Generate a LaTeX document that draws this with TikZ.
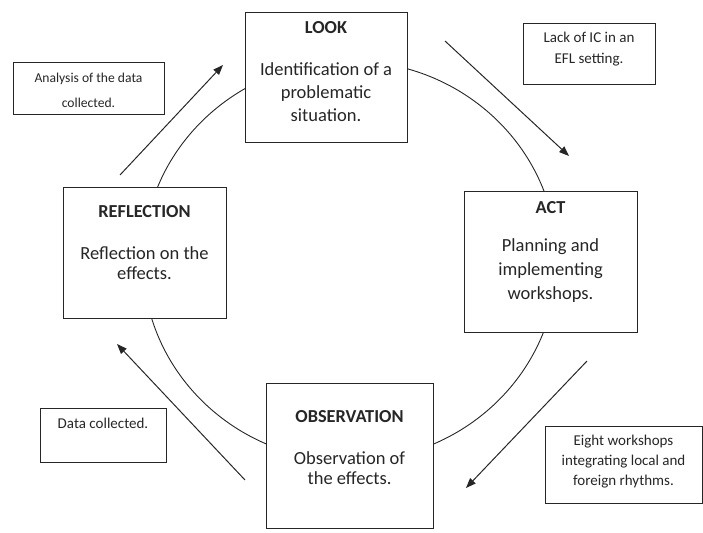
\documentclass[tikz,border=0pt]{standalone}
\usepackage{fontspec}
\setmainfont{Carlito}
\usetikzlibrary{arrows.meta}
\begin{document}
\begin{tikzpicture}[x=1pt,y=-1pt,
  box/.style={draw=black!85, line width=1.1pt, fill=white, inner sep=0pt, anchor=north west},
  note/.style={draw=black!85, line width=1pt, inner sep=0pt, anchor=north west},
  ttl/.style={font=\bfseries\fontsize{18.3}{21}\selectfont, text=black!85},
  body/.style={font=\fontsize{18.5}{23}\selectfont, align=center, text=black!85, inner sep=0pt},
  ntext/.style={font=\fontsize{15}{21}\selectfont, align=center, text=black!85, inner sep=0pt},
  arr/.style={line width=1pt, draw=black!85, -{Triangle[length=10pt,width=7.5pt]}},
  cyc/.style={line width=0.9pt, draw=black!85}]
\useasboundingbox (0,0) rectangle (703,532);
% cycle
\draw[cyc] (350,261) ellipse [x radius=207, y radius=200];
% main boxes
\node[box, minimum width=162pt, minimum height=130pt] (look) at (245,12) {};
\node[box, minimum width=163pt, minimum height=131pt] (refl) at (63,187) {};
\node[box, minimum width=173pt, minimum height=141pt] (act) at (464,191) {};
\node[box, minimum width=167pt, minimum height=145pt] (obs) at (266,383) {};
% titles
\node[ttl] (looktitle) at (326,28) {LOOK};
\node[ttl] (refltitle) at (144.5,212) {REFLECTION};
\node[ttl] (acttitle) at (550.5,208) {ACT};
\node[ttl] (obstitle) at (349.5,417) {OBSERVATION};
% body texts
\node[body] (lookbody) at (326,92) {Identification of a\\problematic\\situation.};
\node[body, font=\fontsize{18.5}{20.5}\selectfont] (reflbody) at (144.5,263) {Reflection on the\\effects.};
\node[body, font=\fontsize{18.5}{24}\selectfont] (actbody) at (550.5,271) {Planning and\\implementing\\workshops.};
\node[body, font=\fontsize{18.5}{20.5}\selectfont] (obsbody) at (349.5,468) {Observation of\\the effects.};
% note boxes
\node[note, minimum width=151pt, minimum height=52pt] (analysis) at (13,62) {};
\node[note, minimum width=132pt, minimum height=61pt] (lack) at (523,23) {};
\node[note, minimum width=157pt, minimum height=77pt] (eight) at (545,426) {};
\node[note, minimum width=126pt, minimum height=54pt] (data) at (40,408) {};
\node[ntext, font=\fontsize{13.6}{25}\selectfont] (analysistext) at (88.5,90) {Analysis of the data\\collected.};
\node[ntext] (lacktext) at (589,49) {Lack of IC in an\\EFL setting.};
\node[ntext, font=\fontsize{15}{20}\selectfont] (eighttext) at (623.5,462) {Eight workshops\\integrating local and\\foreign rhythms.};
\node[ntext] (datatext) at (103,423) {Data collected.};
% arrows
\coordinate (a1s) at (120,175); \coordinate (a1e) at (223,65);
\coordinate (a2s) at (445,41);  \coordinate (a2e) at (569,156);
\coordinate (a3s) at (587,361); \coordinate (a3e) at (466,488);
\coordinate (a4s) at (245,480); \coordinate (a4e) at (117,344);
\draw[arr] (a1s) -- (a1e);
\draw[arr] (a2s) -- (a2e);
\draw[arr] (a3s) -- (a3e);
\draw[arr] (a4s) -- (a4e);
\end{tikzpicture}
\end{document}
